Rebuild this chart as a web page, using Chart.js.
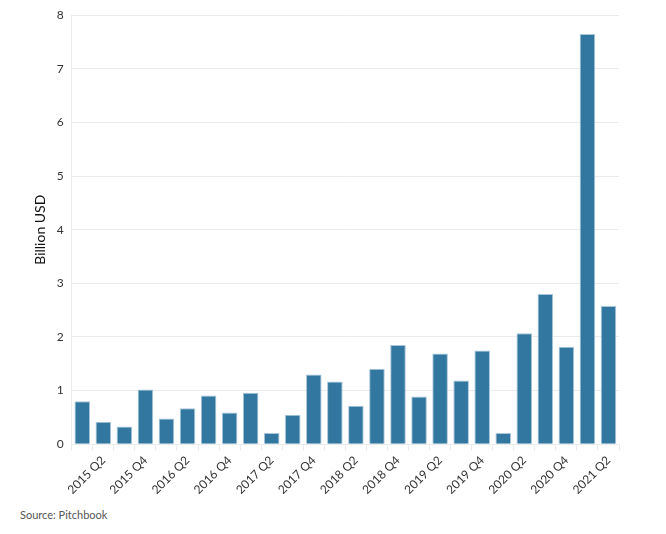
<!DOCTYPE html>
<html>
<head>
<meta charset="utf-8">
<script src="https://cdn.jsdelivr.net/npm/chart.js@4"></script>
<style>
  body { margin: 0; background: #fff; }
  #wrap { position: relative; width: 666px; height: 500px; }
  #source { position: absolute; left: 20px; top: 508px; font: 11px Lato, sans-serif; color: #555; }
</style>
</head>
<body>
<div id="wrap"><canvas id="chart"></canvas></div>
<div id="source">Source: Pitchbook</div>
<script>
// Quarters 2015 Q1 .. 2021 Q2
const quarters = [
    '2015 Q1', '2015 Q2', '2015 Q3', '2015 Q4',
    '2016 Q1', '2016 Q2', '2016 Q3', '2016 Q4',
    '2017 Q1', '2017 Q2', '2017 Q3', '2017 Q4',
    '2018 Q1', '2018 Q2', '2018 Q3', '2018 Q4',
    '2019 Q1', '2019 Q2', '2019 Q3', '2019 Q4',
    '2020 Q1', '2020 Q2', '2020 Q3', '2020 Q4',
    '2021 Q1', '2021 Q2'
];
// Billion USD
const amounts = [
    0.80, 0.42, 0.33, 1.02,
    0.48, 0.67, 0.91, 0.59,
    0.96, 0.21, 0.55, 1.30,
    1.17, 0.72, 1.41, 1.85,
    0.89, 1.69, 1.19, 1.75,
    0.21, 2.07, 2.80, 1.82,
    7.65, 2.58
];
const yTicks = [0, 1, 2, 3, 4, 5, 6, 7, 8];

const gridColor = '#ebebeb';
const textColor = '#333';

new Chart(document.getElementById('chart'), {
    type: 'bar',
    data: {
        labels: quarters,
        datasets: [{
            data: amounts,
            backgroundColor: '#32779f',
            borderColor: '#a7c6d9',
            borderWidth: 1,
            categoryPercentage: 0.74,
            barPercentage: 1
        }]
    },
    options: {
        responsive: true,
        maintainAspectRatio: false,
        animation: false,
        layout: { padding: { left: 32, top: 6, right: 47, bottom: 0 } },
        plugins: {
            legend: { display: false },
            tooltip: { enabled: false }
        },
        scales: {
            x: {
                grid: {
                    drawOnChartArea: false,
                    color: gridColor,
                    tickColor: gridColor,
                    tickLength: 6
                },
                border: { color: gridColor },
                ticks: {
                    autoSkip: false,
                    maxRotation: 45,
                    minRotation: 45,
                    color: textColor,
                    font: { family: 'Lato', size: 12 },
                    callback: function(value, index) {
                        return index % 2 === 1 ? quarters[index] : '';
                    }
                }
            },
            y: {
                min: 0,
                max: 8,
                afterBuildTicks: function(axis) {
                    axis.ticks = yTicks.map(v => ({ value: v }));
                },
                grid: { color: gridColor, drawTicks: false },
                border: { color: gridColor },
                ticks: {
                    color: textColor,
                    padding: 8,
                    font: { family: 'Lato', size: 12 }
                },
                title: {
                    display: true,
                    text: 'Billion USD',
                    color: '#111',
                    font: { family: 'Lato', size: 14 },
                    padding: { top: 0, bottom: 0 }
                }
            }
        }
    }
});
</script>
</body>
</html>
